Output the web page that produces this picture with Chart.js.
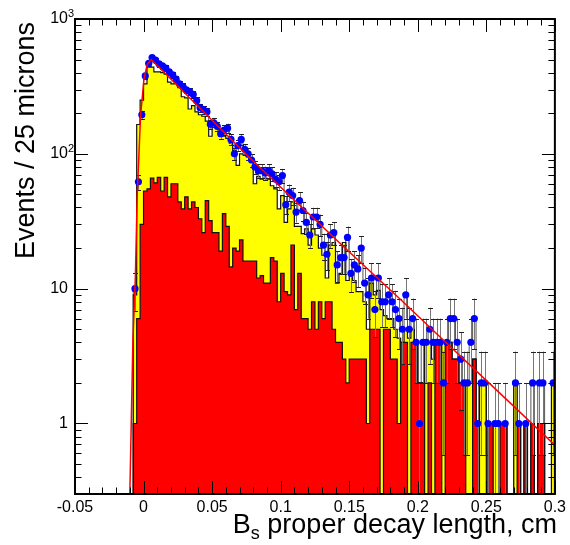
<!DOCTYPE html>
<html>
<head>
<meta charset="utf-8">
<script src="https://cdn.jsdelivr.net/npm/chart.js@4.4.1/dist/chart.umd.min.js"></script>
<style>
  html, body { margin: 0; padding: 0; background: #fff; }
  canvas { display: block; }
</style>
</head>
<body>
<canvas id="decayChart" width="570" height="545"></canvas>
<script>
// binning: 25 micron bins starting at -0.0075 cm
const binStart = -0.0075;
const binWidth = 0.0025;

// yellow histogram (total), read bin by bin
const yellowCounts = [
  9, 165, 250, 330, 440, 440, 405, 405, 400, 390,
  340, 330, 335, 310, 265, 260, 215, 228, 205, 195,
  190, 175, 135, 163, 160, 135, 135, 130, 120, 106,
  82, 100, 98, 95, 88, 60, 68, 65, 66, 65,
  58, 55, 39, 49, 31, 39, 44, 29, 29, 25.6,
  27.8, 21, 27.8, 25, 20, 17.7, 12, 21, 22, 11,
  13, 22, 11.5, 12.5, 11.5, 9.5, 9.5, 8, 5, 11,
  9, 9.7, 7, 6.3, 6, 6, 5, 4.3, 4, 5,
  4.3, 5, 4, 2, 2, 4, 4, 3, 4, 4,
  4, 4, 4, 3, 3, 2, 2, 2, 2, 3,
  1, 2, 2, 1, 1, 1, 1, 1, 1, 0,
  0, 2, 1, 0, 1, 0, 1, 0, 1, 1,
  0, 0, 2
];

// red histogram (component)
const redCounts = [
  1, 6, 30, 53, 55, 66, 61, 67, 53, 67,
  48, 60, 60, 44, 39, 48, 39, 44, 40, 33,
  26, 45, 32, 26, 26, 19, 36, 29, 14.5, 20,
  19, 23, 16, 16, 16, 16, 12, 12.5, 11, 11,
  17, 16, 8, 13, 9.5, 9, 21, 7, 13, 6,
  6, 5, 8, 5, 8, 6, 8, 8, 5, 4,
  4, 3, 2, 3, 3, 3, 3, 3, 1, 5,
  5, 5, 0, 5, 5, 3, 3, 1, 4, 4,
  0, 4, 4, 2, 2, 0, 2, 0, 4, 4,
  0, 4, 4, 3, 3, 2, 2, 0, 0, 3,
  1, 0, 0, 1, 1, 0, 0, 1, 1, 0,
  0, 0, 1, 0, 1, 0, 1, 0, 1, 1,
  0, 0, 0
];

// data (blue points)
const dataCounts = [
  10, 62, 195, 378, 468, 518, 495, 465, 450, 432,
  405, 385, 358, 330, 315, 298, 290, 275, 248, 220,
  212, 205, 166, 170, 160, 141, 150, 155, 128, 100,
  115, 128, 108, 100, 90, 80, 75, 75, 72, 75,
  71, 65, 62, 69, 42, 52, 49, 37, 45, 38,
  31, 25, 34, 34, 30, 21, 18, 25, 26, 15,
  17, 17, 24, 13, 15, 14, 20, 11, 9, 12,
  7, 12, 8, 8, 9, 8, 7, 6, 5, 9,
  5, 6, 4, 1, 4, 4, 5, 4, 4, 4,
  2, 4, 6, 6, 4, 3, 2, 2, 4, 6,
  1, 2, 2, 1, 0, 1, 1, 0, 1, 0,
  0, 2, 1, 0, 1, 0, 2, 0, 2, 2,
  0, 0, 2
];

// fit curve
const fitX = [-0.0100, -0.0078, -0.0060, -0.0046, -0.0022, 0.0003, 0.0027, 0.0056,
              0.0766, 0.1128, 0.1491, 0.1853, 0.2215, 0.2577, 0.3];
const fitY = [0.3, 4, 12, 50, 190, 360, 460, 500,
              95, 42.6, 19.1, 8.7, 3.9, 1.76, 0.69];

const xTickValues = [-0.05, 0, 0.05, 0.1, 0.15, 0.2, 0.25, 0.3];
const xTickLabels = ['-0.05', '0', '0.05', '0.1', '0.15', '0.2', '0.25', '0.3'];
const yTickValues = [1, 10, 100, 1000];
const yTickLabels = ['1', '10', '10^2', '10^3'];
const yMin = 0.3;
const yMax = 1000;

const FONT = "'Liberation Sans', Arial, Helvetica, sans-serif";

function histPoints(counts) {
  const pts = [{ x: binStart, y: yMin }];
  for (let i = 0; i < counts.length; i++) {
    pts.push({ x: binStart + i * binWidth, y: counts[i] > 0 ? counts[i] : yMin });
  }
  const end = binStart + counts.length * binWidth;
  const last = counts[counts.length - 1];
  pts.push({ x: end, y: last > 0 ? last : yMin });
  pts.push({ x: end, y: yMin });
  return pts;
}

const dataPoints = [];
for (let i = 0; i < dataCounts.length; i++) {
  if (dataCounts[i] > 0) {
    dataPoints.push({ x: binStart + (i + 0.5) * binWidth, y: dataCounts[i] });
  }
}

const fitPoints = fitX.map((x, i) => ({ x: x, y: fitY[i] }));

// gray error bars under the data points
const errorBars = {
  id: 'errorBars',
  beforeDatasetDraw(chart, args) {
    if (chart.data.datasets[args.index].label !== 'data') return;
    const { ctx, scales: { x, y }, chartArea } = chart;
    ctx.save();
    ctx.beginPath();
    ctx.rect(chartArea.left, chartArea.top, chartArea.right - chartArea.left, chartArea.bottom - chartArea.top);
    ctx.clip();
    dataPoints.forEach(p => {
      const err = Math.sqrt(p.y);
      const px = Math.round(x.getPixelForValue(p.x)) + 0.5;
      const lo = p.y - err > yMin ? y.getPixelForValue(p.y - err) : chartArea.bottom + 2;
      const hi = y.getPixelForValue(p.y + err);
      ctx.strokeStyle = '#777';
      ctx.lineWidth = 1;
      ctx.beginPath();
      ctx.moveTo(px, lo);
      ctx.lineTo(px, hi);
      ctx.stroke();
      ctx.strokeStyle = '#222';
      ctx.beginPath();
      ctx.moveTo(px - 2.5, Math.round(hi) + 0.5);
      ctx.lineTo(px + 2.5, Math.round(hi) + 0.5);
      ctx.moveTo(px - 2.5, Math.round(lo) + 0.5);
      ctx.lineTo(px + 2.5, Math.round(lo) + 0.5);
      ctx.stroke();
    });
    ctx.restore();
  }
};

// ROOT style frame, inner ticks and titles
const rootFrame = {
  id: 'rootFrame',
  afterDatasetsDraw(chart) {
    const { ctx, chartArea: a, scales: { x, y } } = chart;
    ctx.save();
    ctx.strokeStyle = '#000';
    ctx.lineWidth = 1;
    ctx.beginPath();
    for (let i = -5; i <= 30; i++) {
      const v = i / 100;
      const px = Math.round(x.getPixelForValue(v)) + 0.5;
      const len = (i % 5 === 0) ? 13 : 6.5;
      ctx.moveTo(px, a.bottom); ctx.lineTo(px, a.bottom - len);
      ctx.moveTo(px, a.top); ctx.lineTo(px, a.top + len);
    }
    for (let d = -1; d <= 2; d++) {
      for (let m = 1; m <= 9; m++) {
        const v = m * Math.pow(10, d);
        if (v < yMin || v > yMax) continue;
        const py = Math.round(y.getPixelForValue(v)) + 0.5;
        const len = m === 1 ? 13 : 6.5;
        ctx.moveTo(a.left, py); ctx.lineTo(a.left + len, py);
        ctx.moveTo(a.right, py); ctx.lineTo(a.right - len, py);
      }
    }
    ctx.stroke();
    ctx.lineWidth = 2;
    ctx.strokeRect(a.left, a.top, a.right - a.left, a.bottom - a.top);
    ctx.restore();
  },
  afterDraw(chart) {
    const { ctx, chartArea: a, scales: { y } } = chart;
    ctx.save();
    ctx.fillStyle = '#000';
    // exponents of the y labels
    ctx.font = '11px ' + FONT;
    ctx.textAlign = 'left';
    ctx.textBaseline = 'alphabetic';
    yTickValues.forEach((v, i) => {
      const parts = yTickLabels[i].split('^');
      if (parts.length < 2) return;
      ctx.fillText(parts[1], a.left - 7, y.getPixelForValue(v) - 2);
    });
    // y title
    ctx.font = '27px ' + FONT;
    ctx.save();
    ctx.translate(34, 22);
    ctx.rotate(-Math.PI / 2);
    ctx.textAlign = 'right';
    ctx.fillText('Events / 25 microns', 0, 0);
    ctx.restore();
    // x title with subscript
    const main = ' proper decay length, cm';
    ctx.font = '27px ' + FONT;
    const wB = ctx.measureText('B').width;
    const wMain = ctx.measureText(main).width;
    ctx.font = '18px ' + FONT;
    const wS = ctx.measureText('s').width;
    const x0 = 557 - (wB + wS + wMain);
    ctx.textAlign = 'left';
    ctx.font = '27px ' + FONT;
    ctx.fillText('B', x0, 533);
    ctx.font = '18px ' + FONT;
    ctx.fillText('s', x0 + wB, 539);
    ctx.font = '27px ' + FONT;
    ctx.fillText(main, x0 + wB + wS, 533);
    ctx.restore();
  }
};

new Chart(document.getElementById('decayChart'), {
  type: 'line',
  data: {
    datasets: [
      {
        label: 'fit',
        data: fitPoints,
        borderColor: '#ff0000',
        borderWidth: 1.5,
        pointRadius: 0,
        fill: false,
        tension: 0,
        order: 0
      },
      {
        label: 'data',
        data: dataPoints,
        showLine: false,
        pointRadius: 3.6,
        pointBackgroundColor: '#0000ff',
        pointBorderColor: '#0000ff',
        pointBorderWidth: 0,
        order: 1
      },
      {
        label: 'red',
        data: histPoints(redCounts),
        stepped: 'before',
        borderColor: '#111',
        borderWidth: 1.2,
        backgroundColor: '#ff0000',
        fill: 'start',
        pointRadius: 0,
        order: 2
      },
      {
        label: 'yellow',
        data: histPoints(yellowCounts),
        stepped: 'before',
        borderColor: '#111',
        borderWidth: 1.2,
        backgroundColor: '#ffff00',
        fill: 'start',
        pointRadius: 0,
        order: 3
      },
      {
        label: 'dataHist',
        data: histPoints(dataCounts),
        stepped: 'before',
        borderColor: '#555',
        borderWidth: 1,
        fill: false,
        pointRadius: 0,
        order: 4
      }
    ]
  },
  options: {
    responsive: false,
    animation: false,
    events: [],
    layout: { padding: { left: 0, right: 12, top: 19, bottom: 0 }, autoPadding: false },
    plugins: { legend: { display: false }, tooltip: { enabled: false } },
    scales: {
      x: {
        type: 'linear',
        min: -0.05,
        max: 0.3,
        grid: { display: false, drawTicks: false },
        border: { display: false },
        afterFit(scale) { scale.height = 51; },
        afterBuildTicks(scale) { scale.ticks = xTickValues.map(v => ({ value: v })); },
        ticks: {
          autoSkip: false,
          maxRotation: 0,
          padding: 4,
          color: '#000',
          font: { family: FONT, size: 16 },
          callback: (v, i) => xTickLabels[i]
        }
      },
      y: {
        type: 'logarithmic',
        min: yMin,
        max: yMax,
        grid: { display: false, drawTicks: false },
        border: { display: false },
        afterFit(scale) { scale.width = 75; },
        afterBuildTicks(scale) { scale.ticks = yTickValues.map(v => ({ value: v })); },
        ticks: {
          autoSkip: false,
          padding: 7,
          color: '#000',
          font: { family: FONT, size: 16 },
          callback: (v, i) => yTickLabels[i].split('^')[0]
        }
      }
    }
  },
  plugins: [errorBars, rootFrame]
});
</script>
</body>
</html>
